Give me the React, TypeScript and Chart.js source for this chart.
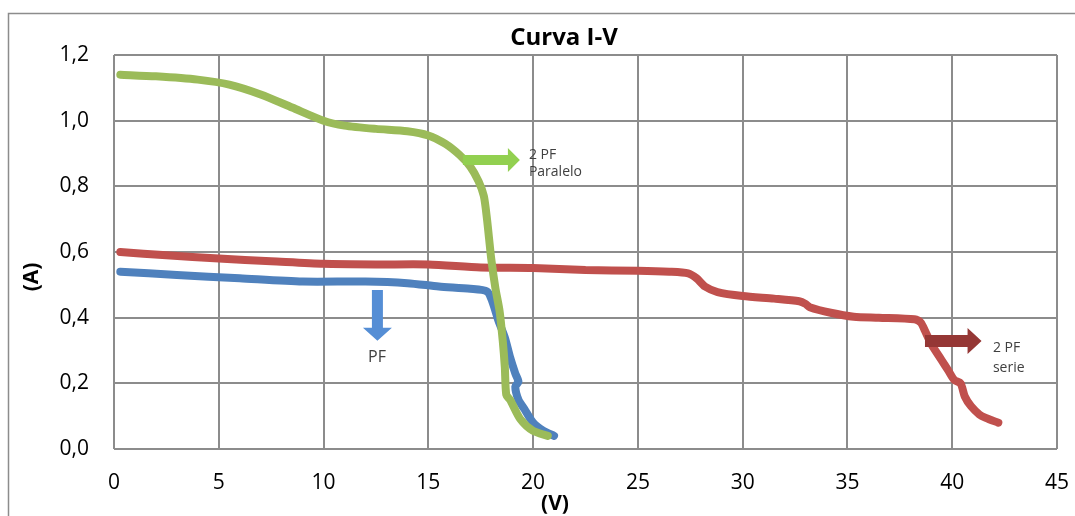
import { useEffect, useRef } from "react";
import { Chart, registerables } from "chart.js";

Chart.register(...registerables);

// Series: 2 PF Paralelo (green)
const voltsParalelo = [0.3, 2, 4, 5.5, 7, 8.5, 10, 11, 12.5, 14, 15, 15.8, 16.5, 17, 17.4, 17.65, 17.8, 17.9, 18.0, 18.2, 18.4, 18.55, 18.65, 18.72, 18.9, 19.4, 20.0, 20.7];
const ampsParalelo = [1.14, 1.135, 1.125, 1.11, 1.08, 1.04, 1.0, 0.985, 0.975, 0.968, 0.955, 0.93, 0.895, 0.86, 0.815, 0.77, 0.7, 0.64, 0.58, 0.49, 0.42, 0.33, 0.25, 0.165, 0.15, 0.09, 0.055, 0.04];

// Series: PF (blue)
const voltsPF = [0.3, 3, 6, 9, 12, 14, 15.5, 17, 17.8, 18.05, 18.35, 18.65, 18.9, 19.15, 19.3, 19.15, 19.3, 19.6, 20.0, 20.5, 21.0];
const ampsPF = [0.54, 0.53, 0.52, 0.51, 0.51, 0.505, 0.495, 0.488, 0.48, 0.45, 0.39, 0.34, 0.28, 0.23, 0.205, 0.19, 0.15, 0.12, 0.08, 0.055, 0.04];

// Series: 2 PF serie (red)
const voltsSerie = [0.3, 2.5, 5, 7.5, 10, 12.5, 15, 17.5, 20, 22.5, 25, 26.5, 27.4, 27.8, 28.2, 28.8, 30, 31.5, 32.7, 33.0, 33.2, 34.2, 35.3, 36.5, 38.2, 38.5, 38.7, 39.0, 39.5, 39.8, 40.1, 40.4, 40.6, 40.9, 41.3, 41.6, 42.2];
const ampsSerie = [0.6, 0.59, 0.58, 0.572, 0.564, 0.562, 0.562, 0.553, 0.551, 0.545, 0.543, 0.54, 0.535, 0.52, 0.495, 0.478, 0.466, 0.458, 0.45, 0.442, 0.432, 0.415, 0.403, 0.4, 0.395, 0.385, 0.36, 0.32, 0.27, 0.24, 0.21, 0.2, 0.16, 0.13, 0.105, 0.095, 0.08];

const xTicksMax = 45;
const yTicksMax = 1.2;

const titleText = "Curva I-V";
const xTitle = "(V)";
const yTitle = "(A)";

const toPoints = (xs: number[], ys: number[]) => xs.map((x, i) => ({ x, y: ys[i] }));

function arrowRight(ctx: CanvasRenderingContext2D, x0: number, x2: number, y: number, shaft: number, head: number, headLen: number, color: string) {
  const x1 = x2 - headLen;
  ctx.fillStyle = color;
  ctx.beginPath();
  ctx.moveTo(x0, y - shaft / 2);
  ctx.lineTo(x1, y - shaft / 2);
  ctx.lineTo(x1, y - head / 2);
  ctx.lineTo(x2, y);
  ctx.lineTo(x1, y + head / 2);
  ctx.lineTo(x1, y + shaft / 2);
  ctx.lineTo(x0, y + shaft / 2);
  ctx.closePath();
  ctx.fill();
}

function arrowDown(ctx: CanvasRenderingContext2D, x: number, y0: number, y2: number, shaft: number, head: number, headLen: number, color: string) {
  const y1 = y2 - headLen;
  ctx.fillStyle = color;
  ctx.beginPath();
  ctx.moveTo(x - shaft / 2, y0);
  ctx.lineTo(x - shaft / 2, y1);
  ctx.lineTo(x - head / 2, y1);
  ctx.lineTo(x, y2);
  ctx.lineTo(x + head / 2, y1);
  ctx.lineTo(x + shaft / 2, y1);
  ctx.lineTo(x + shaft / 2, y0);
  ctx.closePath();
  ctx.fill();
}

const decorPlugin = {
  id: "decor",
  afterDraw(chart: any) {
    const ctx: CanvasRenderingContext2D = chart.ctx;
    const xs = chart.scales.x;
    const ys = chart.scales.y;
    ctx.save();
    // outer frame
    ctx.strokeStyle = "#8c8c8c";
    ctx.lineWidth = 1.5;
    ctx.beginPath();
    ctx.moveTo(8.5, 516);
    ctx.lineTo(8.5, 13.5);
    ctx.lineTo(1075, 13.5);
    ctx.stroke();

    // title
    ctx.fillStyle = "#000";
    ctx.textAlign = "center";
    ctx.textBaseline = "middle";
    ctx.font = "bold 24px 'Open Sans'";
    ctx.fillText(titleText, 564, 38);

    // axis titles
    ctx.font = "bold 21px 'Open Sans'";
    ctx.fillText(xTitle, 555, 504);
    ctx.save();
    ctx.translate(32, 277);
    ctx.rotate(-Math.PI / 2);
    ctx.fillText(yTitle, 0, 0);
    ctx.restore();

    // annotations
    const gy = ys.getPixelForValue(0.88);
    arrowRight(ctx, xs.getPixelForValue(16.65), xs.getPixelForValue(19.37), gy, 10, 24, 12, "#92d050");
    const bx = xs.getPixelForValue(12.57);
    arrowDown(ctx, bx, ys.getPixelForValue(0.484), ys.getPixelForValue(0.33), 11, 29, 13, "#558ed5");
    const ry = ys.getPixelForValue(0.329);
    arrowRight(ctx, xs.getPixelForValue(38.7), xs.getPixelForValue(41.4), ry, 12, 26, 14, "#953735");

    ctx.fillStyle = "#404040";
    ctx.textAlign = "left";
    ctx.font = "14px 'Open Sans'";
    ctx.fillText("2 PF", xs.getPixelForValue(19.8), ys.getPixelForValue(0.895));
    ctx.fillText("Paralelo", xs.getPixelForValue(19.8), ys.getPixelForValue(0.844));
    ctx.fillText("2 PF", xs.getPixelForValue(41.94), ys.getPixelForValue(0.308));
    ctx.fillText("serie", xs.getPixelForValue(41.94), ys.getPixelForValue(0.247));
    ctx.textAlign = "center";
    ctx.font = "16px 'Open Sans'";
    ctx.fillText("PF", xs.getPixelForValue(12.55), ys.getPixelForValue(0.28));
    ctx.restore();
  },
};

export default function App() {
  const ref = useRef<HTMLCanvasElement | null>(null);
  useEffect(() => {
    if (!ref.current) return;
    const lineCommon = {
      pointRadius: 0,
      borderWidth: 8,
      tension: 0.25,
      borderCapStyle: "round" as const,
      borderJoinStyle: "round" as const,
      fill: false,
    };
    const chart = new Chart(ref.current, {
      type: "line",
      data: {
        datasets: [
          { label: "2 PF Paralelo", data: toPoints(voltsParalelo, ampsParalelo), borderColor: "#9bbb59", backgroundColor: "#9bbb59", ...lineCommon },
          { label: "PF", data: toPoints(voltsPF, ampsPF), borderColor: "#4f81bd", backgroundColor: "#4f81bd", ...lineCommon },
          { label: "2 PF serie", data: toPoints(voltsSerie, ampsSerie), borderColor: "#c0504d", backgroundColor: "#c0504d", ...lineCommon },
        ],
      },
      options: {
        animation: false,
        responsive: false,
        maintainAspectRatio: false,
        layout: { padding: { left: 0, right: 18, top: 55, bottom: 0 } },
        plugins: { legend: { display: false }, tooltip: { enabled: false }, title: { display: false } },
        scales: {
          x: {
            type: "linear",
            min: 0,
            max: xTicksMax,
            afterFit: (s: any) => { s.height = 67; s.paddingLeft = 0; s.paddingRight = 0; },
            ticks: { stepSize: 5, padding: 21, color: "#000", font: { family: "'Open Sans'", size: 21 } },
            grid: { color: "#8c8c8c", lineWidth: 2, drawTicks: false },
            border: { display: false },
          },
          y: {
            type: "linear",
            min: 0,
            max: yTicksMax,
            afterFit: (s: any) => { s.width = 114; s.paddingTop = 0; s.paddingBottom = 0; },
            ticks: {
              stepSize: 0.2,
              padding: 25,
              color: "#000",
              font: { family: "'Open Sans'", size: 21 },
              callback: (v: any) => Number(v).toFixed(1).replace(".", ","),
            },
            grid: { color: "#8c8c8c", lineWidth: 2, drawTicks: false },
            border: { display: false },
          },
        },
      },
      plugins: [decorPlugin],
    });
    return () => chart.destroy();
  }, []);
  return (
    <div style={{ position: "absolute", left: 0, top: 0, width: 1075, height: 516, background: "#fff" }}>
      <canvas ref={ref} width={1075} height={516} style={{ width: 1075, height: 516, display: "block" }} />
    </div>
  );
}
